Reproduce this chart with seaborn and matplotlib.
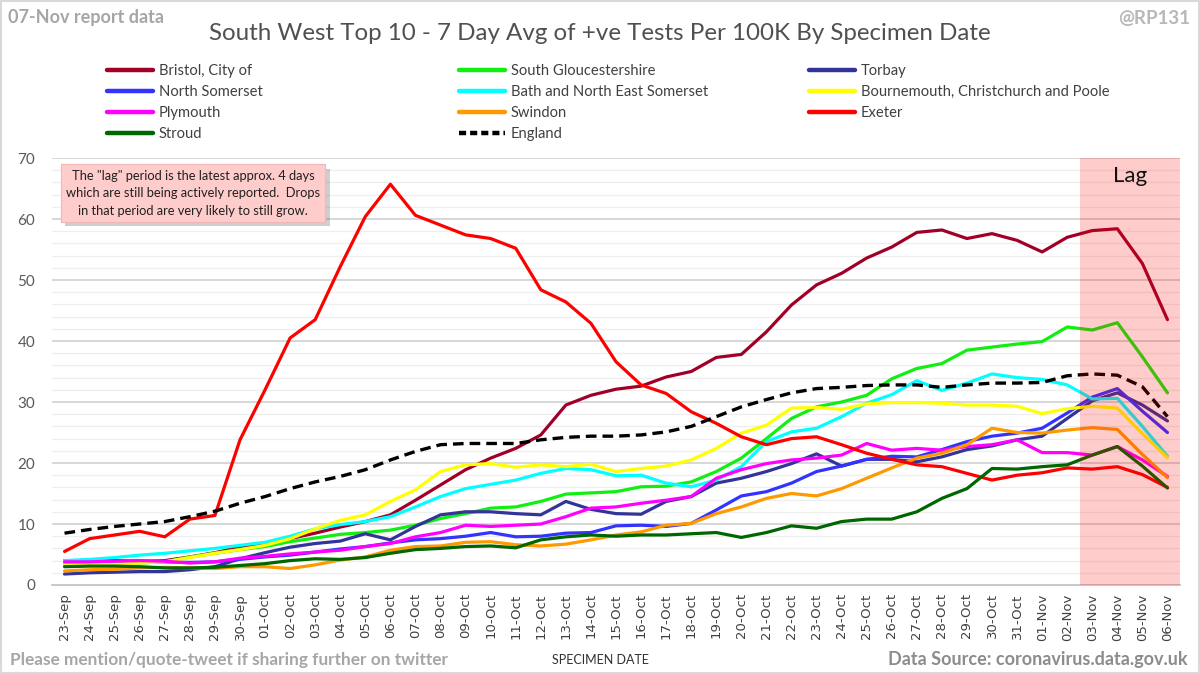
import matplotlib
matplotlib.use("Agg")
import matplotlib.pyplot as plt
import matplotlib.patheffects as pe
from matplotlib.lines import Line2D
from matplotlib.patches import Rectangle
import seaborn as sns
import pandas as pd
import numpy as np

dates = ["23-Sep","24-Sep","25-Sep","26-Sep","27-Sep","28-Sep","29-Sep","30-Sep",
         "01-Oct","02-Oct","03-Oct","04-Oct","05-Oct","06-Oct","07-Oct","08-Oct",
         "09-Oct","10-Oct","11-Oct","12-Oct","13-Oct","14-Oct","15-Oct","16-Oct",
         "17-Oct","18-Oct","19-Oct","20-Oct","21-Oct","22-Oct","23-Oct","24-Oct",
         "25-Oct","26-Oct","27-Oct","28-Oct","29-Oct","30-Oct","31-Oct","01-Nov",
         "02-Nov","03-Nov","04-Nov","05-Nov","06-Nov"]

bristol = [3.3,3.4,3.6,3.8,4.0,4.6,5.3,6.2,6.8,7.6,8.5,9.5,10.4,11.5,13.9,16.4,18.9,20.8,22.4,24.6,
           29.5,31.1,32.1,32.6,34.1,35.0,37.3,37.8,41.5,45.9,49.2,51.1,53.6,55.4,57.8,58.2,56.8,57.6,
           56.5,54.6,57.0,58.1,58.4,52.7,43.5]
south_glos = [3.4,3.5,3.6,3.6,3.8,4.6,5.2,5.8,6.3,7.1,7.7,8.3,8.6,9.0,9.8,10.9,11.7,12.6,12.8,13.7,
              14.9,15.1,15.3,16.1,16.2,16.9,18.6,20.8,24.0,27.3,29.2,30.0,31.1,33.8,35.5,36.3,38.5,
              39.0,39.5,39.9,42.3,41.8,43.0,37.4,31.5]
torbay = [1.8,2.0,2.1,2.2,2.2,2.5,3.0,4.3,5.3,6.2,6.8,7.2,8.4,7.4,9.6,11.5,12.0,12.0,11.7,11.5,
          13.7,12.4,11.7,11.6,13.7,14.5,16.7,17.5,18.6,19.9,21.5,19.5,20.6,20.6,20.2,21.0,22.2,
          22.8,23.8,24.4,27.3,30.2,31.5,29.5,26.9]
north_som = [4.0,4.0,4.0,3.9,3.8,3.7,3.8,4.2,4.6,4.9,5.4,5.9,6.3,6.9,7.4,7.6,8.0,8.6,7.9,8.0,
             8.5,8.6,9.7,9.8,9.6,10.1,12.3,14.6,15.3,16.7,18.6,19.5,20.6,21.1,21.0,22.2,23.5,
             24.4,24.9,25.7,28.2,30.8,32.2,28.5,25.0]
bath = [4.0,4.2,4.5,4.9,5.2,5.6,6.0,6.5,7.0,8.0,9.2,9.9,10.4,11.2,12.8,14.5,15.8,16.5,17.2,18.3,
        19.1,18.9,17.9,18.0,16.7,16.1,17.2,19.4,23.5,25.1,25.7,27.6,29.8,31.2,33.5,31.9,33.1,
        34.6,34.0,33.7,32.8,30.5,30.6,26.0,21.1]
bcp = [3.3,3.3,3.4,3.6,3.8,4.5,5.2,5.8,6.5,7.6,9.2,10.6,11.5,13.7,15.6,18.6,19.7,19.9,19.3,19.7,
       19.4,19.8,18.6,19.1,19.5,20.5,22.4,24.9,26.2,29.0,29.1,28.8,29.7,29.9,29.9,29.8,29.5,
       29.5,29.3,28.1,28.9,29.3,29.0,24.8,20.9]
plymouth = [3.8,3.8,3.9,4.0,3.9,3.6,3.8,4.4,4.7,5.1,5.4,5.7,6.3,6.8,7.9,8.6,9.8,9.6,9.8,10.0,
            11.2,12.6,12.8,13.4,13.9,14.5,17.5,18.9,19.9,20.5,20.8,21.3,23.2,22.1,22.4,22.1,22.7,
            23.0,23.8,21.7,21.7,21.3,22.7,20.5,17.8]
swindon = [2.3,2.5,2.6,2.8,2.9,2.8,2.7,3.0,3.0,2.7,3.3,4.1,4.6,5.7,6.3,6.4,7.0,7.1,6.6,6.4,
           6.7,7.4,8.2,8.7,9.8,10.1,11.7,12.8,14.2,15.0,14.6,15.8,17.5,19.2,20.8,21.6,23.0,
           25.7,25.0,24.9,25.4,25.8,25.5,21.4,17.6]
exeter = [5.5,7.6,8.2,8.8,7.9,10.8,11.4,23.8,32.0,40.5,43.5,52.2,60.4,65.7,60.6,59.0,57.4,56.8,
          55.2,48.4,46.4,42.9,36.6,32.8,31.4,28.4,26.5,24.3,23.0,24.0,24.3,23.0,21.6,20.6,19.7,
          19.4,18.3,17.2,18.0,18.4,19.2,19.0,19.4,18.1,16.0]
stroud = [3.0,3.1,3.1,3.0,2.8,2.8,2.9,3.2,3.5,4.0,4.3,4.2,4.5,5.2,5.8,6.0,6.3,6.4,6.1,7.4,
          7.9,8.2,8.0,8.2,8.2,8.4,8.6,7.8,8.6,9.7,9.3,10.4,10.8,10.8,12.0,14.2,15.8,19.1,19.0,
          19.4,19.7,21.3,22.7,19.5,15.9]
england = [8.5,9.1,9.6,10.0,10.4,11.2,12.1,13.4,14.5,15.8,16.9,17.8,18.9,20.5,21.9,23.0,23.2,
           23.2,23.2,23.8,24.2,24.4,24.4,24.6,25.1,26.0,27.6,29.2,30.4,31.5,32.2,32.4,32.7,32.8,
           32.8,32.4,32.8,33.1,33.1,33.2,34.3,34.6,34.4,32.5,27.6]

series_names = ["Bristol, City of", "South Gloucestershire", "Torbay", "North Somerset",
                "Bath and North East Somerset", "Bournemouth, Christchurch and Poole",
                "Plymouth", "Swindon", "Exeter", "Stroud", "England"]
series_values = [bristol, south_glos, torbay, north_som, bath, bcp, plymouth, swindon,
                 exeter, stroud, england]
series_colors = ["#A00028", "#11EE11", "#333399", "#3333FF", "#00FFFF", "#FFFF00",
                 "#FF00FF", "#FF9900", "#FF0000", "#006600", "#000000"]
lag_days = 4

sns.set_theme(style="white")
plt.rcParams["font.family"] = ["Lato", "DejaVu Sans"]

fig = plt.figure(figsize=(12, 6.74), dpi=100)
ax = fig.add_axes([52/1200, 1-585/674, (1180-52)/1200, (585-158)/674])

n = len(dates)
for name, vals, col in zip(series_names, series_values, series_colors):
    d = pd.DataFrame({"idx": np.arange(n), "val": vals})
    if name == "England":
        sns.lineplot(data=d, x="idx", y="val", ax=ax, color=col, lw=2.4,
                     linestyle=(0, (3.2, 1.8)), zorder=4)
    else:
        sns.lineplot(data=d, x="idx", y="val", ax=ax, color=col, lw=2.3, zorder=3)

ax.set_xlim(-0.5, n - 0.5)
ax.set_ylim(0, 70)
ax.axvspan(n - 0.5 - lag_days, n - 0.5, color="red", alpha=0.2, lw=0, zorder=5)
ax.text(n - 0.5 - lag_days / 2, 67.0, "Lag", ha="center", va="center", fontsize=16,
        color="#111111", zorder=6)

# grid
for v in np.arange(2, 71, 2):
    if v % 10 == 0:
        ax.axhline(v, color="#D4D4D4", lw=1.3, zorder=1)
    else:
        ax.axhline(v, color="#EEEEEE", lw=0.9, zorder=1)

ax.set_yticks(np.arange(0, 71, 10))
ax.set_yticklabels([str(v) for v in range(0, 71, 10)], fontsize=11, color="#595959")
ax.set_xticks(np.arange(n))
ax.set_xticklabels(dates, rotation=90, fontsize=9.5, color="#404040",
                   family=["DejaVu Sans"])
ax.set_xticks(np.arange(-0.5, n, 1), minor=True)
ax.tick_params(axis="x", which="major", length=0, pad=6)
ax.tick_params(axis="x", which="minor", length=5, color="#BFBFBF", width=1, direction="out")
ax.tick_params(axis="y", length=0, pad=12)
for s in ["top", "right", "left"]:
    ax.spines[s].set_visible(False)
ax.spines["bottom"].set_color("#BFBFBF")
ax.spines["bottom"].set_linewidth(1.2)
ax.set_xlabel("")
ax.set_ylabel("")

# annotation box
box_x = (193 - 52) / (1180 - 52) * n - 0.5
t = ax.text(box_x, 64.2,
            "The \"lag\" period is the latest approx. 4 days\nwhich are still being actively reported.  Drops\nin that period are very likely to still grow.",
            ha="center", va="center", fontsize=9.3, color="#202020", linespacing=1.55,
            zorder=7,
            bbox=dict(boxstyle="square,pad=0.42", fc="#FFCCCC", ec="#F0B8B8", lw=0.8))
t.get_bbox_patch().set_path_effects([pe.withSimplePatchShadow(offset=(3, -3), alpha=0.25),
                                     pe.Normal()])

# legend in three columns
order_cols = [[0, 3, 6, 9], [1, 4, 7, 10], [2, 5, 8]]
col_x = [107, 459, 809]
for cx, idxs in zip(col_x, order_cols):
    handles = []
    for i in idxs:
        ls = (0, (1.6, 0.9)) if series_names[i] == "England" else "-"
        handles.append(Line2D([0], [0], color=series_colors[i], lw=3.2, linestyle=ls))
    leg = fig.legend(handles, [series_names[i] for i in idxs], loc="upper left",
                     bbox_to_anchor=(cx/1200, 1-64/674), frameon=False, fontsize=10.6,
                     handlelength=3.1, handletextpad=0.4, labelspacing=0.47,
                     borderpad=0, borderaxespad=0)
    for txt in leg.get_texts():
        txt.set_color("#404040")

# titles and notes
fig.text(0.5, 1-33/674, "South West Top 10 - 7 Day Avg of +ve Tests Per 100K By Specimen Date",
         ha="center", va="center", fontsize=17.4, color="#505050")
fig.text(8/1200, 1-17/674, "07-Nov report data", ha="left", va="center", fontsize=13,
         color="#A6A6A6", fontweight="bold")
fig.text(1190/1200, 1-19/674, "@RP131", ha="right", va="center", fontsize=13.5,
         color="#B8B8B8", fontweight="bold")
fig.text(10/1200, 1-660/674, "Please mention/quote-tweet if sharing further on twitter",
         ha="left", va="center", fontsize=12.4, color="#A6A6A6", fontweight="bold")
fig.text(1188/1200, 1-660/674, "Data Source: coronavirus.data.gov.uk",
         ha="right", va="center", fontsize=13, color="#8C8C8C", fontweight="bold")
fig.text(600/1200, 1-660/674, "SPECIMEN DATE", ha="center", va="center", fontsize=9,
         color="#303030")

fig.patches.append(Rectangle((0.001, 0.001), 0.998, 0.997, transform=fig.transFigure,
                             fill=False, ec="#D9D9D9", lw=1.5))

fig.savefig("out.png", dpi=100)
